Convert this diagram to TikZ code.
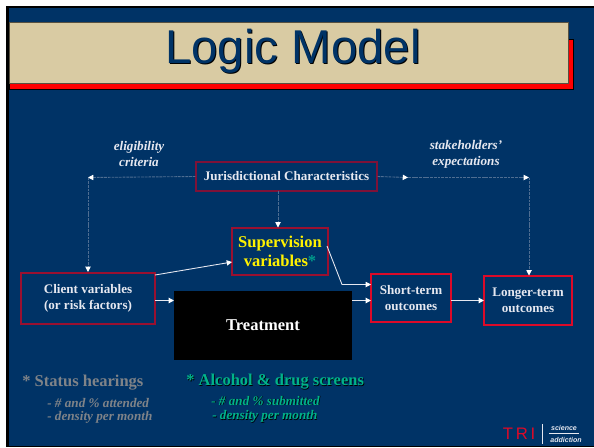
\documentclass[tikz,border=0pt]{standalone}
\usepackage{fontspec}
\setmainfont{Liberation Serif}
\newfontfamily\titlefont{Liberation Sans}
\usetikzlibrary{arrows.meta}
\definecolor{slide}{HTML}{003366}
\definecolor{sand}{HTML}{D9CBA3}
\definecolor{darkred}{HTML}{9A1030}
\definecolor{dimred}{HTML}{7E1238}
\definecolor{brightred}{HTML}{DC0A28}
\definecolor{lighttext}{HTML}{E6E8F0}
\definecolor{dimgrey}{HTML}{7F8388}
\definecolor{screens}{HTML}{00B38A}
\definecolor{starteal}{HTML}{009C8C}
\definecolor{dashline}{HTML}{4F6E92}
\newcommand{\shadowed}[2]{\makebox[0pt][l]{\kern#1\raisebox{-#1}{\textcolor{black}{#2}}}#2}
\begin{document}
\begin{tikzpicture}[x = 0.02cm, y = -0.02cm, line width = 0.5pt,
                        box/.style = {draw, line width = 0.6pt, inner sep = 0pt, align = center, font = \bfseries\fontsize{7.45}{9.2}\selectfont, text = lighttext},
                        note/.style = {align = center, font = \bfseries\itshape\fontsize{7.5}{9.2}\selectfont, text = lighttext},
                        dashlink/.style = {dashline, dash pattern = on 1.6pt off 0.5pt, line width = 0.5pt, -{Triangle[white, length = 3pt, width = 3pt]}},
                        link/.style = {lighttext, -{Triangle[white, length = 3pt, width = 3pt]}},
                        greyhead/.style = {anchor = west, font = \bfseries\fontsize{9.4}{10}\selectfont, text = dimgrey},
                        greysub/.style = {anchor = west, font = \bfseries\itshape\fontsize{7.5}{8}\selectfont, text = dimgrey},
                        greenhead/.style = {anchor = west, font = \bfseries\fontsize{9.4}{10}\selectfont, text = screens},
                        greensub/.style = {anchor = west, font = \bfseries\itshape\fontsize{7.5}{8}\selectfont, text = screens}]
    \useasboundingbox (0, 0) rectangle (594, 447);
    \fill [white] (0, 0) rectangle (594, 447);
    \fill [black] (6, 5.5) rectangle (594, 447);
    \fill [slide] (9, 8) rectangle (594, 446);
    % title bar
    \fill [red, draw = black, line width = 0.4pt] (9, 39) rectangle (573.5, 89.5);
    \fill [sand, draw = black!60!sand, line width = 0.5pt] (9, 22.7) rectangle (568, 83.7);
    \node [font = \titlefont\fontsize{27}{30}\selectfont, text = slide] (title) at (293, 52) {\shadowed{0.6pt}{Logic Model}};

    \node [box, draw = dimred, minimum width = 3.62cm, minimum height = 0.58cm] (juris) at (286.5, 176.5) {Jurisdictional Characteristics};
    \node [box, draw = darkred, line width = 1pt, minimum width = 1.92cm, minimum height = 0.94cm, font = \bfseries\fontsize{9.4}{10.8}\selectfont, text = yellow] (super) at (280, 251.5) {Supervision\\variables\textcolor{starteal}{*}};
    \node [box, draw = darkred, line width = 1pt, minimum width = 2.68cm, minimum height = 1.02cm] (client) at (88, 298.5) {Client variables\\(or risk factors)};
    \node [fill = black, minimum width = 3.56cm, minimum height = 1.38cm, inner sep = 0pt, font = \bfseries\fontsize{9.4}{11}\selectfont, text = white] (treat) at (263, 325.5) {Treatment};
    \node [box, draw = brightred, minimum width = 1.6cm, minimum height = 0.96cm] (short) at (411, 298) {Short-term\\outcomes};
    \node [box, draw = brightred, minimum width = 1.76cm, minimum height = 0.98cm] (long) at (528, 300.5) {Longer-term\\outcomes};

    \node [note] (elig) at (139, 154) {eligibility\\criteria};
    \node [note] (stake) at (466, 154) {stakeholders'\\expectations};

    \coordinate (leftcorner) at (88, 177.5);
    \coordinate (leftend) at (88, 272);
    \coordinate (midright) at (408, 177.5);
    \coordinate (rightcorner) at (529, 177.5);
    \coordinate (rightend) at (529, 275.5);
    \coordinate (jurisout) at (278, 191);
    \coordinate (superin) at (278, 227.5);
    \coordinate (clientup) at (155, 275);
    \coordinate (superleft) at (232, 262);
    \coordinate (superout) at (327, 246);
    \coordinate (bendsuper) at (342, 284.5);
    \coordinate (shortup) at (371, 284.5);
    \coordinate (clientout) at (155, 300.5);
    \coordinate (treatin) at (174, 300.5);
    \coordinate (treatout) at (352, 300.5);
    \coordinate (shortin) at (371, 300.5);
    \coordinate (shortout) at (451, 300.5);
    \coordinate (longin) at (484, 300.5);
    \draw [dashlink] (juris.west) -- (leftcorner);
    \draw [dashlink] (leftcorner) -- (leftend);
    \draw [dashlink] (juris.east) -- (midright);
    \draw [dashlink] (midright) -- (rightcorner);
    \draw [dashlink] (rightcorner) -- (rightend);
    \draw [dashlink] (jurisout) -- (superin);
    \draw [link] (clientup) -- (superleft);
    \draw [link] (superout) -- (bendsuper) -- (shortup);
    \draw [link, line width = 0.7pt] (clientout) -- (treatin);
    \draw [link, line width = 0.7pt] (treatout) -- (shortin);
    \draw [link, line width = 0.7pt] (shortout) -- (longin);

    \node [greyhead] (status) at (16, 383) {* Status hearings};
    \node [greysub] (attend) at (41, 403) {- \# and \% attended};
    \node [greysub] (densa) at (41, 417) {- density per month};
    \node [greenhead] (alcohol) at (180, 382) {\shadowed{0.4pt}{* Alcohol \& drug screens}};
    \node [greensub] (submit) at (205, 401) {\shadowed{0.4pt}{- \# and \% submitted}};
    \node [greensub] (densb) at (206, 417) {\shadowed{0.4pt}{- density per month}};

    % logo
    \node [font = \titlefont\fontsize{9.5}{10}\selectfont, text = brightred] (tri) at (519, 433.5) {T\,R\,I};
    \node [font = \titlefont\bfseries\itshape\fontsize{4}{5}\selectfont, text = lighttext] (science) at (564, 427.5) {science};
    \node [font = \titlefont\bfseries\itshape\fontsize{4}{5}\selectfont, text = lighttext] (addict) at (566, 439.5) {addiction};
    \draw [lighttext, line width = 0.3pt] (542, 424) -- (542, 444);
    \draw [lighttext, line width = 0.3pt] (549, 433) -- (579, 433);
  \end{tikzpicture}
\end{document}
